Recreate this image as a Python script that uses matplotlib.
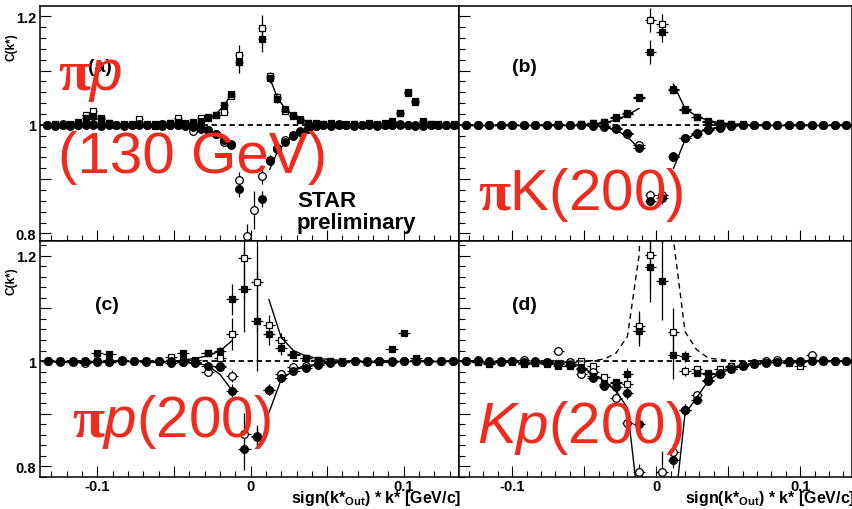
import numpy as np
import matplotlib
matplotlib.use("Agg")
import matplotlib.pyplot as plt
from matplotlib.ticker import MultipleLocator, FuncFormatter

plt.rcParams['font.family'] = ['Liberation Sans', 'DejaVu Sans']
plt.rcParams['font.weight'] = 'bold'
plt.rcParams['mathtext.fontset'] = 'custom'
plt.rcParams['mathtext.rm'] = 'Liberation Sans:regular'
plt.rcParams['mathtext.it'] = 'Liberation Sans:italic:regular'
plt.rcParams['mathtext.bf'] = 'Liberation Serif:bold'
plt.rcParams['mathtext.sf'] = 'Liberation Sans:bold'
plt.rcParams['axes.unicode_minus'] = False

N = np.nan

# bin centres, sign(k*out)*k* [GeV/c]
k130 = [-0.1325, -0.1275, -0.1225, -0.1175, -0.1125, -0.1075, -0.1025, -0.0975, -0.0925,
        -0.0875, -0.0825, -0.0775, -0.0725, -0.0675, -0.0625, -0.0575, -0.0525, -0.0475,
        -0.0425, -0.0375, -0.0325, -0.0275, -0.0225, -0.0175, -0.0125, -0.0075, -0.0025,
        0.0025, 0.0075, 0.0125, 0.0175, 0.0225, 0.0275, 0.0325, 0.0375, 0.0425,
        0.0475, 0.0525, 0.0575, 0.0625, 0.0675, 0.0725, 0.0775, 0.0825, 0.0875,
        0.0925, 0.0975, 0.1025, 0.1075, 0.1125, 0.1175, 0.1225, 0.1275, 0.1325]
k200 = [-0.132, -0.124, -0.116, -0.108, -0.100, -0.092, -0.084, -0.076, -0.068,
        -0.060, -0.052, -0.044, -0.036, -0.028, -0.020, -0.012, -0.004,
        0.004, 0.012, 0.020, 0.028, 0.036, 0.044, 0.052, 0.060,
        0.068, 0.076, 0.084, 0.092, 0.100, 0.108, 0.116, 0.124, 0.132]

# ---- (a) pi-p 130 GeV
fsq_a = [1.000, 1.001, 0.999, 1.000, 1.003, 1.012, 1.017, 1.010, 1.004,
         1.000, 1.002, 0.999, 1.001, 1.000, 1.002, 1.001, 1.003, 1.005,
         1.002, 1.004, 1.008, 1.012, 1.018, 1.036, 1.056, 1.115, 1.300,
         1.300, 1.158, 1.086, 1.047, 1.030, 1.018, 1.010, 1.004, 1.003,
         1.002, 1.001, 1.002, 1.000, 1.001, 1.000, 1.002, 1.000, 1.004,
         1.008, 1.022, 1.060, 1.044, 1.008, 1.002, 1.001, 1.000, 1.001]
osq_a = [1.000, 0.999, 1.000, 1.001, 1.005, 1.019, 1.025, 1.013, 1.003,
         0.999, 1.000, 1.001, 1.010, 1.001, 0.998, 1.002, 1.004, 1.013,
         1.003, 1.006, 1.012, 1.015, 1.019, 1.024, 1.054, 1.128, 1.320,
         1.320, 1.178, 1.090, 1.052, 1.026, 1.016, 1.009, 1.004, 1.002,
         1.001, 1.003, 1.000, 1.002, 1.001, 0.999, 1.003, 1.001, 1.002,
         1.005, 1.021, 1.058, 1.043, 1.006, 1.001, 0.999, 1.000, 1.000]
fci_a = [0.999, 1.000, 0.999, 0.998, 1.000, 0.999, 1.001, 0.998, 1.000,
         0.999, 0.998, 1.000, 0.999, 1.000, 0.999, 0.998, 1.000, 0.999,
         0.998, 0.996, 0.993, 0.990, 0.983, 0.973, 0.962, 0.882, 0.700,
         0.700, 0.863, 0.934, 0.958, 0.968, 0.980, 0.987, 0.993, 0.997,
         0.999, 0.998, 1.000, 0.999, 0.998, 1.000, 0.999, 0.998, 1.000,
         0.999, 1.000, 0.999, 0.998, 1.000, 0.999, 1.000, 0.999, 1.000]
oci_a = [1.000, 0.998, 1.001, 1.000, 0.999, 1.002, 1.000, 0.999, 1.001,
         1.000, 0.999, 1.000, 1.001, 0.999, 1.000, 1.001, 0.999, 1.000,
         0.999, 0.989, 0.994, 0.991, 0.984, 0.968, 0.965, 0.898, 0.795,
         0.844, 0.906, 0.936, 0.955, 0.972, 0.982, 0.989, 0.995, 0.998,
         1.000, 0.999, 1.001, 1.000, 0.999, 1.000, 1.001, 0.999, 1.000,
         0.999, 1.001, 1.000, 0.999, 0.997, 1.000, 0.999, 1.000, 1.000]
eup_a = [0.003, 0.003, 0.003, 0.003, 0.003, 0.004, 0.004, 0.004, 0.003,
         0.003, 0.003, 0.003, 0.003, 0.003, 0.003, 0.003, 0.003, 0.003,
         0.003, 0.003, 0.003, 0.003, 0.004, 0.005, 0.006, 0.020, 0.030,
         0.030, 0.024, 0.008, 0.006, 0.004, 0.003, 0.003, 0.003, 0.003,
         0.003, 0.003, 0.003, 0.003, 0.003, 0.003, 0.003, 0.003, 0.003,
         0.004, 0.005, 0.005, 0.005, 0.004, 0.003, 0.003, 0.003, 0.003]
elo_a = [0.003, 0.003, 0.003, 0.003, 0.003, 0.003, 0.003, 0.003, 0.003,
         0.003, 0.003, 0.003, 0.003, 0.003, 0.003, 0.003, 0.003, 0.003,
         0.003, 0.003, 0.003, 0.003, 0.004, 0.005, 0.006, 0.015, 0.023,
         0.035, 0.015, 0.008, 0.006, 0.004, 0.003, 0.003, 0.003, 0.003,
         0.003, 0.003, 0.003, 0.003, 0.003, 0.003, 0.003, 0.003, 0.003,
         0.003, 0.003, 0.003, 0.003, 0.003, 0.003, 0.003, 0.003, 0.003]
thx_a = [-0.0325, -0.0275, -0.0225, -0.0175, -0.0125, 0.0,
         0.0125, 0.0175, 0.0225, 0.0275, 0.0325, 0.0375, 0.0425, 0.0475]
thup_a = [1.006, 1.011, 1.020, 1.035, 1.056, N, 1.087, 1.050, 1.030, 1.018, 1.010, 1.005, 1.002, 1.001]
thlo_a = [0.995, 0.990, 0.983, 0.972, 0.962, N, 0.918, 0.950, 0.967, 0.979, 0.987, 0.993, 0.997, 0.999]

# ---- (b) pi-K 200 GeV
fsq_b = [1.000, 1.000, 1.000, 1.000, 1.000, 1.000, 1.000, 1.000, 1.000,
         1.000, 1.001, 1.003, 1.006, 1.014, 1.022, 1.049, 1.135,
         1.172, 1.064, 1.029, 1.015, 1.007, 1.004, 1.002, 1.001,
         1.000, 1.000, 1.000, 1.000, 1.000, 1.000, 1.000, 1.000, 1.000]
osq_b = [1.000, 1.000, 1.000, 1.000, 1.000, 1.000, 1.000, 1.000, 1.001,
         1.000, 1.001, 1.004, 1.005, 1.012, 1.020, 1.052, 1.193,
         1.185, 1.066, 1.028, 1.014, 1.006, 1.003, 1.001, 1.000,
         1.000, 1.000, 1.000, 1.000, 1.000, 1.000, 1.000, 1.000, 1.000]
fci_b = [1.000, 1.000, 0.999, 1.000, 1.000, 0.999, 1.000, 1.000, 1.000,
         1.000, 0.999, 0.998, 0.996, 0.993, 0.985, 0.958, 0.860,
         0.865, 0.941, 0.975, 0.984, 0.991, 0.995, 0.998, 0.999,
         1.000, 1.000, 1.000, 1.000, 1.000, 1.000, 1.000, 1.000, 1.000]
oci_b = [1.000, 1.000, 1.000, 1.000, 1.000, 1.000, 1.000, 1.000, 1.000,
         1.000, 1.000, 0.999, 0.997, 0.994, 0.983, 0.962, 0.870,
         0.870, 0.943, 0.976, 0.985, 0.992, 0.996, 0.998, 1.000,
         1.000, 1.000, 1.000, 1.000, 1.000, 1.000, 1.000, 1.000, 1.000]
eup_b = [0.002, 0.002, 0.002, 0.002, 0.002, 0.002, 0.002, 0.002, 0.002,
         0.002, 0.002, 0.002, 0.002, 0.003, 0.004, 0.005, 0.022,
         0.020, 0.008, 0.004, 0.003, 0.002, 0.002, 0.002, 0.002,
         0.002, 0.002, 0.002, 0.002, 0.002, 0.002, 0.002, 0.002, 0.002]
elo_b = [0.002, 0.002, 0.002, 0.002, 0.002, 0.002, 0.002, 0.002, 0.002,
         0.002, 0.002, 0.002, 0.002, 0.003, 0.004, 0.006, 0.010,
         0.010, 0.007, 0.004, 0.003, 0.002, 0.002, 0.002, 0.002,
         0.002, 0.002, 0.002, 0.002, 0.002, 0.002, 0.002, 0.002, 0.002]
thx_b = [-0.044, -0.036, -0.028, -0.020, -0.012, 0.0,
         0.012, 0.020, 0.028, 0.036, 0.044, 0.052, 0.060]
thup_b = [1.001, 1.004, 1.009, 1.018, 1.030, N, 1.075, 1.030, 1.016, 1.008, 1.004, 1.002, 1.001]
thlo_b = [0.999, 0.996, 0.991, 0.978, 0.957, N, 0.920, 0.972, 0.985, 0.992, 0.996, 0.998, 0.999]

# ---- (c) pi-p 200 GeV
fsq_c = [1.000, 1.000, 1.000, 0.999, 1.015, 1.013, 1.002, 1.000, 1.000,
         0.999, 1.000, 1.016, 1.003, 1.016, 1.020, 1.117, 1.136,
         1.076, 1.051, 1.024, 1.013, 1.006, 1.002, 1.000, 0.999,
         1.000, 1.000, 0.999, 1.023, 1.053, 1.005, 1.000, 1.000, 1.000]
osq_c = [1.000, 1.000, 0.999, 1.000, 1.001, 0.999, 1.000, 1.000, 1.001,
         1.000, 1.008, 1.002, 0.999, 1.016, 1.006, 1.051, 1.196,
         1.150, 1.068, 1.041, 1.012, 1.005, 1.002, 1.000, 1.000,
         1.000, 1.000, 1.000, 1.000, 1.000, 1.000, 1.000, 1.000, 1.000]
fci_c = [1.000, 1.000, 0.999, 1.000, 0.998, 0.999, 1.000, 1.000, 0.999,
         1.000, 0.996, 0.998, 0.997, 0.990, 0.989, 0.944, 0.834,
         0.855, 0.946, 0.968, 0.982, 0.987, 0.993, 0.996, 0.998,
         1.000, 0.999, 1.000, 0.999, 1.000, 1.000, 1.000, 1.000, 1.000]
oci_c = [1.000, 0.999, 1.000, 0.997, 1.000, 1.000, 1.002, 1.000, 1.000,
         1.001, 1.000, 0.999, 0.998, 0.980, 0.990, 0.972, 0.862,
         0.858, 0.946, 0.975, 0.989, 0.990, 0.995, 0.998, 0.999,
         1.000, 1.000, 1.000, 1.000, 1.000, 1.000, 1.000, 1.000, 1.000]
eup_c = [0.003, 0.003, 0.003, 0.003, 0.003, 0.003, 0.003, 0.003, 0.003,
         0.003, 0.003, 0.003, 0.004, 0.005, 0.006, 0.030, 0.080,
         0.095, 0.020, 0.012, 0.005, 0.003, 0.003, 0.003, 0.003,
         0.003, 0.003, 0.003, 0.003, 0.003, 0.003, 0.003, 0.003, 0.003]
elo_c = [0.003, 0.003, 0.003, 0.003, 0.003, 0.003, 0.003, 0.003, 0.003,
         0.003, 0.003, 0.003, 0.003, 0.004, 0.005, 0.012, 0.040,
         0.020, 0.010, 0.006, 0.004, 0.003, 0.003, 0.003, 0.003,
         0.003, 0.003, 0.003, 0.003, 0.003, 0.003, 0.003, 0.003, 0.003]
thx_c = [-0.044, -0.036, -0.028, -0.020, -0.012, 0.0,
         0.012, 0.020, 0.028, 0.036, 0.044, 0.052, 0.060]
thup_c = [1.002, 1.005, 1.010, 1.019, 1.039, N, 1.117, 1.045, 1.020, 1.010, 1.005, 1.003, 1.001]
thlo_c = [0.998, 0.996, 0.992, 0.975, 0.944, N, 0.902, 0.965, 0.982, 0.990, 0.995, 0.998, 0.999]

# ---- (d) K-p 200 GeV
fsq_d = [1.000, 0.998, 0.997, 0.999, 1.000, 0.994, 0.997, 0.998, 0.990,
         0.990, 0.987, 0.972, 0.956, 0.959, 0.976, 1.058, 1.178,
         1.153, 1.011, 1.009, 0.978, 0.975, 0.975, 0.985, 0.990,
         0.995, 0.998, 0.999, 0.998, 1.000, 1.003, 1.000, 1.000, 1.000]
osq_d = [1.000, 0.999, 0.995, 0.998, 0.999, 0.996, 0.997, 0.995, 0.997,
         0.998, 1.001, 0.990, 0.970, 0.960, 0.957, 1.066, 1.201,
         1.300, 1.056, 0.981, 0.985, 0.978, 0.985, 0.990, 0.993,
         0.996, 0.998, 0.999, 0.997, 0.991, 1.001, 1.000, 1.000, 1.000]
fci_d = [1.000, 1.000, 0.999, 1.000, 1.001, 0.999, 0.998, 0.997, 0.995,
         0.993, 0.985, 0.968, 0.953, 0.950, 0.940, 0.880, 0.700,
         0.700, 0.813, 0.908, 0.927, 0.962, 0.975, 0.985, 0.991,
         0.995, 0.997, 0.999, 1.000, 1.001, 1.000, 1.000, 1.000, 1.000]
oci_d = [1.000, 1.002, 1.000, 0.999, 1.000, 1.003, 1.000, 0.998, 1.020,
         0.999, 0.975, 0.980, 0.955, 0.930, 0.883, 0.790, 0.600,
         0.790, 0.828, 0.908, 0.935, 0.965, 0.978, 0.988, 0.993,
         0.997, 1.000, 1.002, 1.001, 0.999, 1.012, 1.003, 1.000, 1.000]
eup_d = [0.004, 0.004, 0.004, 0.004, 0.004, 0.004, 0.004, 0.004, 0.004,
         0.004, 0.004, 0.004, 0.005, 0.006, 0.010, 0.030, 0.065,
         0.075, 0.045, 0.010, 0.006, 0.004, 0.004, 0.004, 0.004,
         0.004, 0.004, 0.004, 0.004, 0.004, 0.004, 0.004, 0.004, 0.004]
elo_d = [0.004, 0.004, 0.004, 0.004, 0.004, 0.004, 0.004, 0.004, 0.004,
         0.004, 0.004, 0.005, 0.006, 0.010, 0.012, 0.015, 0.040,
         0.040, 0.015, 0.010, 0.006, 0.004, 0.004, 0.004, 0.004,
         0.004, 0.004, 0.004, 0.004, 0.004, 0.004, 0.004, 0.004, 0.004]
thx_d = [-0.068, -0.060, -0.052, -0.044, -0.036, -0.028, -0.020, -0.012, -0.004,
         0.004, 0.012, 0.020, 0.028, 0.036, 0.044, 0.052, 0.060, 0.068, 0.076]
thup_d = [1.000, 1.000, 1.000, 1.001, 1.004, 1.015, 1.047, 1.199, 1.600,
          1.600, 1.230, 1.056, 1.022, 1.006, 1.003, 1.001, 1.000, 1.000, 1.000]
thlo_d = [0.999, 0.998, 0.990, 0.975, 0.962, 0.944, 0.911, 0.720, 0.400,
          0.400, 0.700, 0.900, 0.930, 0.962, 0.977, 0.985, 0.990, 0.994, 0.997]

RED = '#ee2b1c'
W, H = 853, 510


def xfmt(v, pos):
    r = round(v * 10)
    if abs(v - r / 10) > 1e-6:
        return ''
    return '0' if r == 0 else '%.1f' % v


def yfmt(v, pos):
    r = round(v * 10)
    if abs(v - r / 10) > 1e-6 or r not in (8, 10, 12):
        return ''
    return '1' if r == 10 else '%.1f' % v


def panel(ax, k, hw, fsq, osq, fci, oci, eup, elo, thx, thup, thlo, ylim,
          up_style='-', xlabels=False, ylabels=False):
    ax.set_xlim(-0.137, 0.136)
    ax.set_ylim(*ylim)
    ax.axhline(1.0, color='k', lw=1.3, ls=(0, (3, 2)), zorder=1)
    common = dict(ecolor='k', elinewidth=0.9, capsize=0, mec='k', mew=0.9, zorder=3)
    ax.errorbar(k, osq, xerr=hw, yerr=eup, fmt='s', ms=5, mfc='white', **common)
    ax.errorbar(k, oci, xerr=hw, yerr=elo, fmt='o', ms=5.5, mfc='white', **common)
    ax.errorbar(k, fsq, xerr=hw, yerr=eup, fmt='s', ms=5, mfc='k', **common)
    ax.errorbar(k, fci, xerr=hw, yerr=elo, fmt='o', ms=5.5, mfc='k', **common)
    ax.plot(thx, thup, color='k', lw=1.0, ls=up_style, zorder=4)
    ax.plot(thx, thlo, color='k', lw=1.0, zorder=4)

    ax.xaxis.set_major_locator(MultipleLocator(0.05))
    ax.xaxis.set_minor_locator(MultipleLocator(0.01))
    ax.yaxis.set_major_locator(MultipleLocator(0.1))
    ax.yaxis.set_minor_locator(MultipleLocator(0.02))
    ax.xaxis.set_major_formatter(FuncFormatter(xfmt))
    ax.yaxis.set_major_formatter(FuncFormatter(yfmt))
    ax.tick_params(which='both', direction='in', top=False, right=False,
                   labelsize=10.5, width=0.8)
    ax.tick_params(which='major', length=8)
    ax.tick_params(which='minor', length=4)
    ax.tick_params(axis='x', labelbottom=xlabels, pad=1.5)
    ax.tick_params(axis='y', labelleft=ylabels, pad=3)
    for s in ax.spines.values():
        s.set_linewidth(1.1)


fig = plt.figure(figsize=(W / 100, H / 100), dpi=100)
L, M, R = 40.5 / W, 459 / W, 852 / W
T, Y, B = 1 - 7 / H, 1 - 242 / H, 1 - 478 / H

ax_a = fig.add_axes([L, Y, M - L, T - Y])
ax_b = fig.add_axes([M, Y, R - M, T - Y])
ax_c = fig.add_axes([L, B, M - L, Y - B])
ax_d = fig.add_axes([M, B, R - M, Y - B])

panel(ax_a, k130, 0.0025, fsq_a, osq_a, fci_a, oci_a, eup_a, elo_a,
      thx_a, thup_a, thlo_a, (0.786, 1.219), ylabels=True)
panel(ax_b, k200, 0.004, fsq_b, osq_b, fci_b, oci_b, eup_b, elo_b,
      thx_b, thup_b, thlo_b, (0.786, 1.219))
panel(ax_c, k200, 0.004, fsq_c, osq_c, fci_c, oci_c, eup_c, elo_c,
      thx_c, thup_c, thlo_c, (0.780, 1.228), xlabels=True, ylabels=True)
panel(ax_d, k200, 0.004, fsq_d, osq_d, fci_d, oci_d, eup_d, elo_d,
      thx_d, thup_d, thlo_d, (0.780, 1.228), up_style=(0, (4, 3)), xlabels=True)


def ftext(x, y, s, **kw):
    return fig.text(x / W, 1 - y / H, s, **kw)


# panel tags and labels
for x, y, s in [(88, 72, '(a)'), (512, 72, '(b)'), (95, 310, '(c)'), (512, 310, '(d)')]:
    ftext(x, y, s, fontsize=14, va='baseline')
ftext(297, 207, 'STAR', fontsize=16, va='baseline')
ftext(297, 229, 'preliminary', fontsize=16, va='baseline')
for y in (47, 281):
    ftext(12, y, 'C(k*)', fontsize=8.5, rotation=90, ha='center', va='center')
xlab = r'sign(k*$_{\mathsf{Out}}$) * k* [GeV/c]'
ftext(461, 503, xlab, fontsize=11.5, ha='right', va='baseline')
ftext(855, 503, xlab, fontsize=11.5, ha='right', va='baseline')

# red overlay labels
red = dict(color=RED, fontsize=42, fontweight='normal', va='baseline', zorder=10)
ftext(58, 90, r'$\mathbf{\pi}\mathit{p}$', **red)
ftext(58, 173, '(130 GeV)', **red)
ftext(478, 210, r'$\mathbf{\pi}$K(200)', **red)
ftext(72, 437, r'$\mathbf{\pi}\mathit{p}$(200)', **red)
ftext(477, 443, r'$\mathit{Kp}$(200)', **red)

fig.savefig('out.png', dpi=100)
